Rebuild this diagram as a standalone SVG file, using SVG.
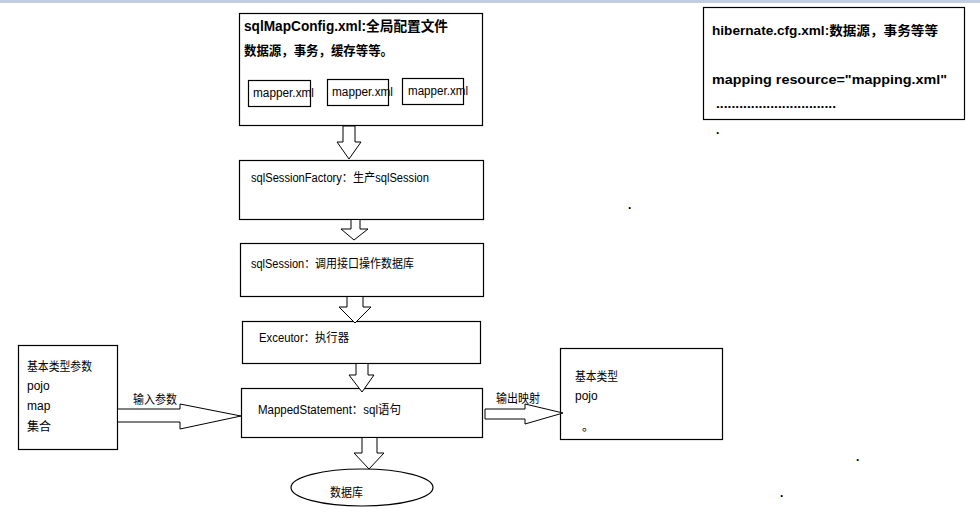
<svg xmlns="http://www.w3.org/2000/svg" width="980" height="518" viewBox="0 0 980 518">
<style>
.box{fill:#fff;stroke:#000;stroke-width:1.2}
.arr{fill:#fff;stroke:#000;stroke-width:1}
text{font-family:"Liberation Sans","Noto Sans CJK SC",sans-serif;fill:#000}
.t{font-size:12px}
.b{font-weight:bold}
</style>
<rect x="0" y="0" width="980" height="518" fill="#fff"/>
<rect x="0" y="0" width="980" height="3" fill="#c4cde0"/>

<g id="config">
<rect class="box" x="239.5" y="13.5" width="243" height="112"/>
<text class="b" x="244" y="31" font-size="14" textLength="204" lengthAdjust="spacingAndGlyphs">sqlMapConfig.xml:全局配置文件</text>
<text class="b" x="244" y="55" font-size="13" textLength="149" lengthAdjust="spacingAndGlyphs">数据源，事务，缓存等等。</text>
<rect class="box" x="248.5" y="80.5" width="62" height="26"/>
<text class="t" x="253" y="97" textLength="61" lengthAdjust="spacingAndGlyphs">mapper.xml</text>
<rect class="box" x="327.5" y="79.5" width="61" height="26"/>
<text class="t" x="332" y="96" textLength="61" lengthAdjust="spacingAndGlyphs">mapper.xml</text>
<rect class="box" x="402.5" y="78.5" width="61" height="26"/>
<text class="t" x="408" y="95" textLength="60" lengthAdjust="spacingAndGlyphs">mapper.xml</text>
</g>

<g id="hibernate">
<rect class="box" x="703.5" y="7.5" width="261" height="112"/>
<text class="b" x="712" y="35" font-size="13" textLength="226" lengthAdjust="spacingAndGlyphs">hibernate.cfg.xml:数据源，事务等等</text>
<text class="b" x="712" y="84" font-size="13" textLength="235" lengthAdjust="spacingAndGlyphs">mapping resource="mapping.xml"</text>
<text class="b" x="716" y="108" font-size="13" textLength="120" lengthAdjust="spacingAndGlyphs">...............................</text>
</g>

<g id="factory">
<rect class="box" x="239.5" y="160.5" width="244" height="59"/>
<text class="t" x="251" y="182" textLength="178" lengthAdjust="spacingAndGlyphs">sqlSessionFactory：生产sqlSession</text>
</g>

<g id="session">
<rect class="box" x="240.5" y="243.5" width="243" height="53"/>
<text class="t" x="251" y="268" textLength="163" lengthAdjust="spacingAndGlyphs">sqlSession：调用接口操作数据库</text>
</g>

<g id="executor">
<rect class="box" x="242.5" y="321.5" width="238" height="42"/>
<text class="t" x="259" y="342" textLength="90" lengthAdjust="spacingAndGlyphs">Exceutor：执行器</text>
</g>

<g id="mapped">
<rect class="box" x="241.5" y="388.5" width="241" height="49"/>
<text class="t" x="258" y="414" textLength="143" lengthAdjust="spacingAndGlyphs">MappedStatement：sql语句</text>
</g>

<g id="db">
<ellipse class="box" cx="362" cy="487.5" rx="71" ry="18.5"/>
<text class="t" x="330" y="497" textLength="33" lengthAdjust="spacingAndGlyphs">数据库</text>
</g>

<g id="input">
<rect class="box" x="18.5" y="345.5" width="99" height="104"/>
<text class="t" x="27" y="371" textLength="65" lengthAdjust="spacingAndGlyphs">基本类型参数</text>
<text class="t" x="27" y="390">pojo</text>
<text class="t" x="27" y="410">map</text>
<text class="t" x="27" y="431">集合</text>
</g>

<g id="output">
<rect class="box" x="560.5" y="348.5" width="162" height="91"/>
<text class="t" x="575" y="381" textLength="43" lengthAdjust="spacingAndGlyphs">基本类型</text>
<text class="t" x="575" y="400">pojo</text>
<text class="t" x="582" y="431">。</text>
</g>

<g id="connectors">
<polygon class="arr" points="343,126 355,126 355,142 361,142 349,159 337,142 343,142"/>
<polygon class="arr" points="351,219.5 360,219.5 360,229 368,229 354,240 341,229 351,229"/>
<polygon class="arr" points="347,296.5 363,296.5 363,307 371,307 355,323 339,307 347,307"/>
<polygon class="arr" points="356,363.5 368,363.5 368,375 374,375 362,392 349,375 356,375"/>
<polygon class="arr" points="362,437.5 377,437.5 377,453 384,453 369,469 354,453 362,453"/>
<polygon class="arr" points="117.5,409 180,409 180,404 241,416 180,429 180,422 117.5,422"/>
<polygon class="arr" points="485,409 525,409 525,404 563,413 525,424 525,419 485,419"/>
<text class="t" x="133" y="404" textLength="44" lengthAdjust="spacingAndGlyphs">输入参数</text>
<text class="t" x="496" y="403" textLength="44" lengthAdjust="spacingAndGlyphs">输出映射</text>
</g>

<g id="dots">
<text class="b" x="716" y="134" font-size="12">.</text>
<text class="b" x="628" y="209" font-size="12">.</text>
<text class="b" x="856" y="461" font-size="12">.</text>
<text class="b" x="780" y="497" font-size="12">.</text>
</g>
</svg>
